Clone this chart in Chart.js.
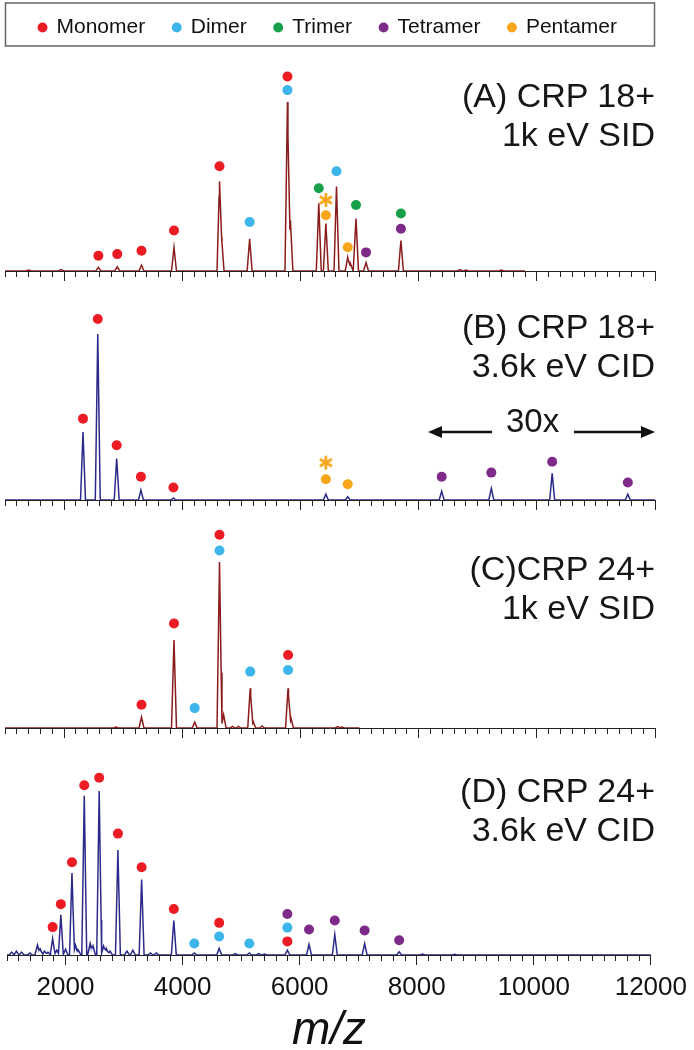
<!DOCTYPE html>
<html>
<head>
<meta charset="utf-8">
<script src="https://cdn.jsdelivr.net/npm/chart.js@4.4.0/dist/chart.umd.min.js"></script>
<style>
  body { margin: 0; background: #fff; width: 694px; height: 1050px; overflow: hidden; position: relative;
         font-family: "Liberation Sans", Arial, sans-serif; }
  canvas { position: absolute; left: 0; }
  .lbl { position: absolute; right: 39px; text-align: right; font-size: 34px; line-height: 39px;
         color: #161616; white-space: nowrap; }
  .mag { position: absolute; left: 506px; top: 405px; font-size: 33px; line-height: 32px; color: #161616; }
  svg { position: absolute; left: 0; top: 0; }
</style>
</head>
<body>
<canvas id="cA" width="694" height="296" style="top:-11px"></canvas>
<canvas id="cB" width="694" height="229" style="top:285px"></canvas>
<canvas id="cC" width="694" height="228" style="top:514px"></canvas>
<canvas id="cD" width="694" height="308" style="top:742px"></canvas>

<div class="lbl" style="top:76px">(A) CRP 18+<br>1k eV SID</div>
<div class="lbl" style="top:307px">(B) CRP 18+<br>3.6k eV CID</div>
<div class="lbl" style="top:549px">(C)CRP 24+<br>1k eV SID</div>
<div class="lbl" style="top:771px">(D) CRP 24+<br>3.6k eV CID</div>
<div class="mag">30x</div>
<svg width="694" height="1050">
  <line x1="492" y1="432" x2="440" y2="432" stroke="#111" stroke-width="2.5"/>
  <polygon points="428,432 442,426 442,438" fill="#111"/>
  <line x1="574" y1="432" x2="643" y2="432" stroke="#111" stroke-width="2.5"/>
  <polygon points="655,432 641,426 641,438" fill="#111"/>
</svg>

<script>
// species and colours
const SPECIES = ['Monomer', 'Dimer', 'Trimer', 'Tetramer', 'Pentamer'];
const SPECIES_COLORS = ['#ed1c24', '#3cb6ea', '#16a04a', '#7d2a88', '#f8a51c'];

// (A) CRP 18+ 1k eV SID  -- peak m/z and relative intensity (%)
const peakMzA  = [1400, 1950, 2580, 2900, 3310, 3860, 4630, 4665, 5140, 5780, 5830, 6310, 6430, 6610, 6800, 6850, 6940, 7110, 7700, 8700, 8800, 9400];
const peakIntA = [0.6, 0.8, 2.2, 2.5, 3.5, 14, 53, 20, 19, 100, 30, 40, 28, 50, 8, 4, 31, 5, 18, 0.8, 0.6, 0.5];
const dotMzA   = [2580, 2900, 3310, 3860, 4630, 5780, 5140, 5780, 6610, 6310, 6940, 7700, 7110, 7700, 6430, 6800];
const dotIntA  = [9, 10, 12, 24, 62, 115, 29, 107, 59, 49, 39, 34, 11, 25, 33, 14];
const dotKindA = ['Monomer', 'Monomer', 'Monomer', 'Monomer', 'Monomer', 'Monomer', 'Dimer', 'Dimer', 'Dimer',
                  'Trimer', 'Trimer', 'Trimer', 'Tetramer', 'Tetramer', 'Pentamer', 'Pentamer'];
const starMzA  = [6430];
const starIntA = [42];

// (B) CRP 18+ 3.6k eV CID
const peakMzB  = [2320, 2570, 2890, 3300, 3850, 6430, 6800, 8390, 9230, 10260, 11540];
const peakIntB = [41, 100, 25, 6, 1.2, 3.5, 2, 5.3, 7, 16, 3.5];
const dotMzB   = [2320, 2570, 2890, 3300, 3850, 6430, 6800, 8390, 9230, 10260, 11540];
const dotIntB  = [49, 109, 33, 14, 7.5, 12.5, 9.5, 14, 16.5, 23, 10.5];
const dotKindB = ['Monomer', 'Monomer', 'Monomer', 'Monomer', 'Monomer', 'Pentamer', 'Pentamer',
                  'Tetramer', 'Tetramer', 'Tetramer', 'Tetramer'];
const starMzB  = [6430];
const starIntB = [22.5];

// (C) CRP 24+ 1k eV SID
const peakMzC  = [2880, 3310, 3860, 4210, 4630, 4700, 4850, 4950, 5150, 5200, 5350, 5790, 5840, 6630, 6700];
const peakIntC = [0.6, 6.5, 53, 3.5, 100, 8, 1, 1, 24, 4, 1.2, 24, 6, 0.8, 0.6];
const dotMzC   = [3310, 3860, 4630, 5790, 4210, 4630, 5150, 5790];
const dotIntC  = [14, 63, 116.5, 44, 12, 107, 34, 35];
const dotKindC = ['Monomer', 'Monomer', 'Monomer', 'Monomer', 'Dimer', 'Dimer', 'Dimer', 'Dimer'];

// (D) CRP 24+ 3.6k eV CID
const peakMzD  = [1080, 1160, 1250, 1390, 1520, 1570, 1640, 1700, 1780, 1850, 1920, 2000, 2110, 2170, 2220,
                  2320, 2420, 2470, 2575, 2650, 2700, 2760, 2895, 3050, 3150, 3300, 3450, 3550, 3850,
                  4200, 4625, 4900, 5140, 5300, 5400, 5790, 6160, 6600, 7110, 7700, 8100, 8650];
const peakIntD = [1.8, 2.4, 1.8, 1.2, 6, 3.6, 2.4, 1.8, 10, 3, 24.5, 3.6, 50, 6, 3,
                  97, 7, 5.4, 100, 5.4, 3.6, 2.4, 64, 2.4, 3, 46, 1.2, 1.2, 21,
                  1.2, 4, 0.8, 1.2, 0.8, 0.6, 3, 6.5, 12.5, 7, 2, 0.6, 0.5];
const dotMzD   = [1780, 1920, 2110, 2320, 2575, 2895, 3300, 3850, 4625, 5790,
                  4200, 4625, 5140, 5790, 5790, 6160, 6600, 7110, 7700];
const dotIntD  = [17, 31, 56.5, 103.5, 108, 74, 53.5, 28, 19.6, 8.3,
                  7, 11.3, 7, 16.7, 25, 15.5, 21, 15, 9];
const dotKindD = ['Monomer', 'Monomer', 'Monomer', 'Monomer', 'Monomer', 'Monomer', 'Monomer', 'Monomer', 'Monomer', 'Monomer',
                  'Dimer', 'Dimer', 'Dimer', 'Dimer', 'Tetramer', 'Tetramer', 'Tetramer', 'Tetramer', 'Tetramer'];

const FONT = '"Liberation Sans", Arial, sans-serif';
const PEAK_HALF_WIDTH = 42;   // m/z, drawing width of a stick peak
const SID_COLOR = '#8a1c1c';
const CID_COLOR = '#2a2a8a';

// peak list -> line points (stick peaks drawn as narrow triangles)
const buildTrace = (mz, inten, endMz) => {
    const xs = [1000, endMz];
    mz.forEach(m => xs.push(m - PEAK_HALF_WIDTH, m, m + PEAK_HALF_WIDTH));
    xs.sort((a, b) => a - b);
    return xs.filter(x => x <= endMz).map(x => {
        let y = 0;
        mz.forEach((m, i) => {
            const d = Math.abs(x - m);
            if (d < PEAK_HALF_WIDTH) y = Math.max(y, inten[i] * (1 - d / PEAK_HALF_WIDTH));
        });
        return { x, y };
    });
};

const starImage = () => {
    const c = document.createElement('canvas');
    c.width = 16; c.height = 16;
    const g = c.getContext('2d');
    g.strokeStyle = '#f8a51c';
    g.lineWidth = 2.6;
    for (let k = 0; k < 3; k++) {
        const a = Math.PI / 2 + k * Math.PI / 3;
        g.beginPath();
        g.moveTo(8 + 7 * Math.cos(a), 8 - 7 * Math.sin(a));
        g.lineTo(8 - 7 * Math.cos(a), 8 + 7 * Math.sin(a));
        g.stroke();
    }
    return c;
};
const STAR = starImage();

// box round the legend of panel A (page y 3..47, canvas starts at -11)
const legendBox = {
    id: 'legendBox',
    afterDraw(chart) {
        const l = chart.legend;
        const ctx = chart.ctx;
        ctx.save();
        ctx.strokeStyle = '#666';
        ctx.lineWidth = 1.5;
        ctx.strokeRect(l.left + 4.5, 14, l.right - l.left - 5, l.bottom - 15);
        ctx.restore();
    }
};

const makePanel = (id, p) => {
    const datasets = [{
        type: 'line',
        label: 'spectrum',
        data: buildTrace(p.peakMz, p.peakInt, p.endMz),
        borderColor: p.color,
        borderWidth: 1.5,
        pointRadius: 0,
        tension: 0,
        fill: false,
        order: 10
    }];
    SPECIES.forEach((s, k) => {
        const pts = [];
        p.dotMz.forEach((m, i) => { if (p.dotKind[i] === s) pts.push({ x: m, y: p.dotInt[i] }); });
        datasets.push({
            type: 'scatter',
            label: s,
            data: pts,
            backgroundColor: SPECIES_COLORS[k],
            borderWidth: 0,
            pointRadius: 5,
            pointHoverRadius: 5,
            order: 1
        });
    });
    if (p.starMz) {
        datasets.push({
            type: 'scatter',
            label: 'precursor',
            data: p.starMz.map((m, i) => ({ x: m, y: p.starInt[i] })),
            pointStyle: STAR,
            order: 1
        });
    }

    new Chart(document.getElementById(id), {
        type: 'line',
        data: { datasets },
        plugins: p.legend ? [legendBox] : [],
        options: {
            responsive: false,
            animation: false,
            events: [],
            layout: { padding: { left: 1, right: 39, top: 0, bottom: 0 } },
            plugins: {
                tooltip: { enabled: false },
                legend: {
                    display: !!p.legend,
                    position: 'top',
                    maxHeight: 58,
                    labels: {
                        usePointStyle: true,
                        pointStyle: 'circle',
                        boxWidth: 7,
                        boxHeight: 7,
                        padding: 28,
                        color: '#111',
                        font: { size: 21, family: FONT },
                        filter: item => SPECIES.includes(item.text)
                    }
                }
            },
            scales: {
                x: {
                    type: 'linear',
                    min: 1000,
                    max: 12000,
                    border: { display: true, color: '#222', width: 1 },
                    grid: {
                        drawOnChartArea: false,
                        drawTicks: true,
                        tickLength: 10,
                        tickColor: '#222',
                        tickWidth: 1,
                        tickBorderDash: c => (c.tick && c.tick.value % 2000 === 0) ? [] : [5, 20]
                    },
                    ticks: {
                        display: !!p.labels,
                        stepSize: 200,
                        autoSkip: false,
                        maxRotation: 0,
                        minRotation: 0,
                        padding: 7,
                        color: '#111',
                        font: { size: 26, family: FONT },
                        callback: v => v % 2000 === 0 ? v : ''
                    },
                    title: {
                        display: !!p.labels,
                        text: 'm/z',
                        color: '#111',
                        font: { size: 46, style: 'italic', family: FONT, lineHeight: 0.8 },
                        padding: { top: 0, bottom: 0 }
                    },
                    afterFit: s => { s.height = p.axisHeight; }
                },
                y: { display: false, min: 0, max: p.yMax }
            }
        }
    });
};

makePanel('cA', { peakMz: peakMzA, peakInt: peakIntA, dotMz: dotMzA, dotInt: dotIntA, dotKind: dotKindA,
                  starMz: starMzA, starInt: starIntA, endMz: 9800, color: SID_COLOR, yMax: 132.5,
                  axisHeight: 14, legend: true });
makePanel('cB', { peakMz: peakMzB, peakInt: peakIntB, dotMz: dotMzB, dotInt: dotIntB, dotKind: dotKindB,
                  starMz: starMzB, starInt: starIntB, endMz: 12000, color: CID_COLOR, yMax: 126.5,
                  axisHeight: 14 });
makePanel('cC', { peakMz: peakMzC, peakInt: peakIntC, dotMz: dotMzC, dotInt: dotIntC, dotKind: dotKindC,
                  endMz: 7000, color: SID_COLOR, yMax: 126, axisHeight: 14 });
makePanel('cD', { peakMz: peakMzD, peakInt: peakIntD, dotMz: dotMzD, dotInt: dotIntD, dotKind: dotKindD,
                  endMz: 12000, color: CID_COLOR, yMax: 126.8, axisHeight: 95, labels: true });
</script>
</body>
</html>
